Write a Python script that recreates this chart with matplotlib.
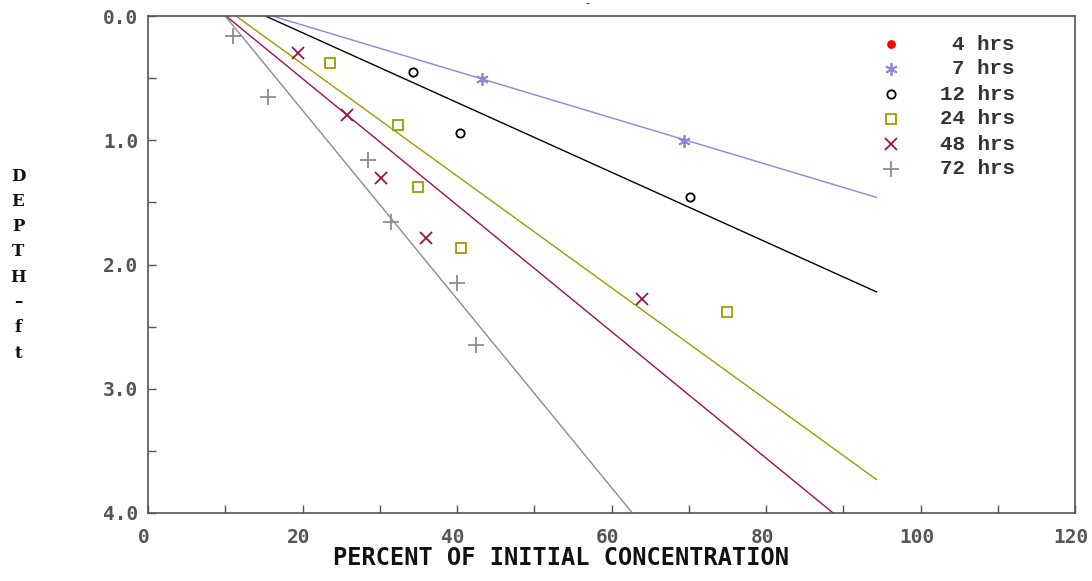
import matplotlib
matplotlib.use("Agg")
import matplotlib.pyplot as plt
import matplotlib.transforms as mtransforms
import numpy as np

# Sampled concentration profiles (percent of initial concentration vs depth in ft)
series_names = ["4 hrs", "7 hrs", "12 hrs", "24 hrs", "48 hrs", "72 hrs"]

conc_4h = []
depth_4h = []
conc_7h = [43.3, 69.4]
depth_7h = [0.51, 1.01]
conc_12h = [34.3, 40.4, 70.1]
depth_12h = [0.45, 0.94, 1.46]
conc_24h = [23.6, 32.3, 35.0, 40.5, 75.0]
depth_24h = [0.38, 0.88, 1.38, 1.87, 2.38]
conc_48h = [19.4, 25.8, 30.1, 36.0, 63.9]
depth_48h = [0.30, 0.80, 1.30, 1.79, 2.28]
conc_72h = [11.0, 15.5, 28.5, 31.5, 40.0, 42.5]
depth_72h = [0.16, 0.65, 1.16, 1.66, 2.15, 2.65]

# Fitted lines: concentration at the surface and depth gained per percent
fit_x0 = [None, 16.1, 15.2, 11.4, 10.1, 10.0]
fit_slope = [None, 0.01867, 0.02807, 0.0450, 0.0509, 0.0759]
fit_xmax = 94.3

x_ticks = [0, 20, 40, 60, 80, 100, 120]
y_ticks = [0.0, 1.0, 2.0, 3.0, 4.0]

colors = ["#ff0000", "#8888dd", "#000000", "#9c9c00", "#a0104c", "#8c8c8c"]
markers = ["o", (6, 2, 0), "o", "s", "x", "+"]
msizes = [4, 9, 6, 7, 8, 11]
filled = [True, True, False, False, True, True]

conc = [conc_4h, conc_7h, conc_12h, conc_24h, conc_48h, conc_72h]
depth = [depth_4h, depth_7h, depth_12h, depth_24h, depth_48h, depth_72h]

W, H = 1092, 581
fig = plt.figure(figsize=(W / 100, H / 100), dpi=100)
ax = fig.add_axes([148 / W, 1 - 513 / H, (1075 - 148) / W, (513 - 16) / H])

for i in range(len(series_names)):
    c = colors[i]
    if fit_x0[i] is not None:
        xs = np.array([fit_x0[i], fit_xmax])
        ax.plot(xs, (xs - fit_x0[i]) * fit_slope[i], color=c, lw=1.0, zorder=2)
    if conc[i]:
        ax.plot(conc[i], depth[i], linestyle="none", marker=markers[i],
                ms=msizes[i], mec=c, mfc=c if filled[i] else "none",
                mew=1.3, zorder=3)

ax.set_xlim(0, 120)
ax.set_ylim(4.0, 0.0)

tick_font = dict(family="DejaVu Sans Mono", weight="bold", size=14)
ax.set_xticks(x_ticks)
ax.set_xticklabels([str(v) for v in x_ticks], fontdict=tick_font, color="#555555")
ax.set_xticks(np.arange(0, 121, 10), minor=True)
ax.set_yticks(y_ticks)
ax.set_yticklabels([f"{v:.1f}" for v in y_ticks], fontdict=tick_font, color="#555555")
ax.set_yticks(np.arange(0, 4.01, 0.5), minor=True)
ax.tick_params(which="both", direction="in", color="#555555", width=1.0, length=6)
ax.tick_params(axis="x", pad=11)
ax.tick_params(axis="y", pad=7)
shift = mtransforms.ScaledTranslation(-4 / 100, 0, fig.dpi_scale_trans)
for lbl in ax.get_xticklabels():
    lbl.set_transform(lbl.get_transform() + shift)
for s in ax.spines.values():
    s.set_color("#555555")
    s.set_linewidth(1.2)

fig.text((330 + 792) / 2 / W, 1 - 558 / H, "PERCENT OF INITIAL CONCENTRATION",
         ha="center", va="center", family="DejaVu Sans Mono", weight="bold",
         size=17, color="#111111")

ylabel = ["D", "E", "P", "T", "H", "\u2013", "f", "t"]
for k, ch in enumerate(ylabel):
    fig.text(18 / W, 1 - (176 + k * 25.3) / H, ch, ha="center", va="center",
             family="DejaVu Serif", weight="bold", size=12, color="#111111")

# Legend drawn in pixel-based figure coordinates
for i, name in enumerate(series_names):
    yp = 1 - (44 + i * 25) / H
    c = colors[i]
    fig.lines.append(plt.Line2D([891 / W], [yp], transform=fig.transFigure,
                                linestyle="none", marker=markers[i],
                                ms=msizes[i] if i else 5, mec=c,
                                mfc=c if filled[i] else "none", mew=1.3))
    fig.text(1015 / W, yp, name, ha="right", va="center",
             family="Liberation Mono", weight="bold", size=15, color="#333333")

fig.text(587 / W, 1 - 3 / H, "-", ha="center", va="center", size=8, color="#000000")

fig.savefig("out.png", dpi=100)
